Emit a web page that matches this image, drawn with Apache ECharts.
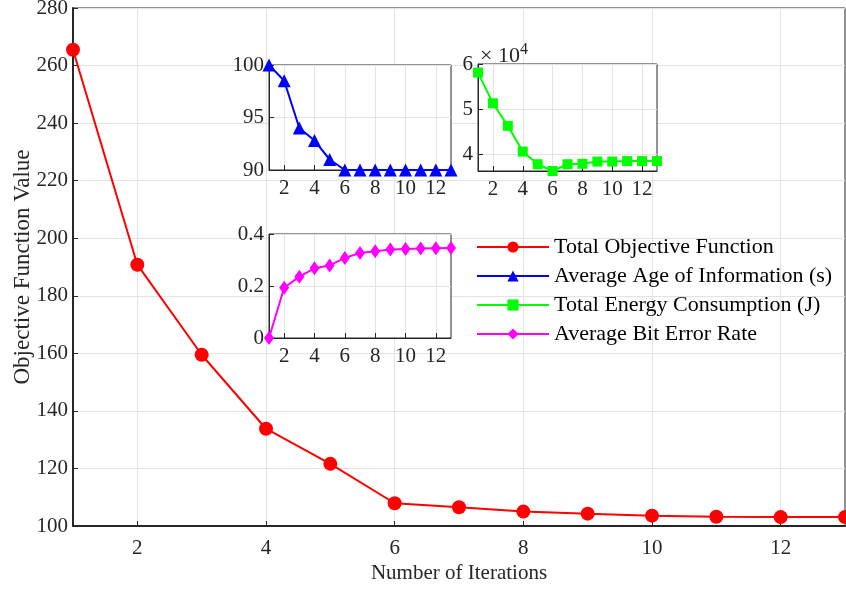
<!DOCTYPE html>
<html>
<head>
<meta charset="utf-8">
<script src="https://cdn.jsdelivr.net/npm/echarts@6/dist/echarts.min.js"></script>
<style>
html, body { margin: 0; padding: 0; background: #fff; }
#chart { width: 846px; height: 589px; }
</style>
</head>
<body>
<div id="chart"></div>
<script>
// values
const iterations = [1, 2, 3, 4, 5, 6, 7, 8, 9, 10, 11, 12, 13]
const totalObjective = [265.5, 190.8, 159.5, 133.8, 121.6, 107.9, 106.5, 105.0, 104.3, 103.6, 103.2, 103.1, 103.1]
const avgAoI = [100, 98.5, 94.0, 92.8, 91.0, 90, 90, 90, 90, 90, 90, 90, 90]
const totalEnergy = [58100, 51300, 46300, 40600, 37800, 36300, 37800, 37900, 38400, 38400, 38500, 38500, 38500]
const avgBER = [0, 0.193, 0.236, 0.268, 0.279, 0.308, 0.327, 0.334, 0.340, 0.342, 0.344, 0.345, 0.346]
const xTicks = [2, 4, 6, 8, 10, 12]
const energyTicks = [40000, 50000, 60000]

const serif = 'Liberation Serif'
const ink = '#262626'
const gridColor = '#e3e3e3'
const fs = 21

const pairs = (ys) => iterations.map((x, i) => [x, ys[i]])

function xAxisFor(gridIndex, opts = {}) {
  return {
    type: 'value',
    gridIndex,
    min: 1,
    max: 13,
    axisLine: { show: true, lineStyle: { color: ink, width: opts.lineW || 1 } },
    axisTick: { show: true, inside: true, length: 5, customValues: xTicks, lineStyle: { color: ink } },
    axisLabel: { customValues: xTicks, color: ink, fontFamily: serif, fontSize: fs, margin: opts.margin || 8 },
    splitLine: { show: true, lineStyle: { color: gridColor } },
    z: opts.z || 0,
    ...opts.extra,
  }
}

function yAxisFor(gridIndex, min, max, interval, opts = {}) {
  return {
    type: 'value',
    gridIndex,
    min,
    max,
    interval,
    axisLine: { show: true, lineStyle: { color: ink, width: opts.lineW || 1 } },
    axisTick: { show: true, inside: true, length: 5, lineStyle: { color: ink } },
    axisLabel: { color: ink, fontFamily: serif, fontSize: fs, margin: 5 },
    splitLine: { show: true, lineStyle: { color: gridColor } },
    z: opts.z || 0,
    ...opts.extra,
  }
}

const gridBase = { show: true, borderColor: ink, borderWidth: 1, containLabel: false, outerBoundsMode: 'none' }

const chart = echarts.init(document.getElementById('chart'))

chart.setOption({
  animation: false,
  backgroundColor: '#fff',
  grid: [
    { ...gridBase, left: 73, top: 8, right: 1, bottom: 63, backgroundColor: 'transparent', z: 0 },
    { ...gridBase, left: 269, top: 65, width: 182, height: 105, backgroundColor: '#fff', z: 1 },
    { ...gridBase, left: 478, top: 64, width: 179, height: 107, backgroundColor: '#fff', z: 1 },
    { ...gridBase, left: 269, top: 234, width: 182, height: 104, backgroundColor: '#fff', z: 1 },
  ],
  xAxis: [
    xAxisFor(0, {
      lineW: 2,
      margin: 12,
      extra: {
        name: 'Number of Iterations',
        nameLocation: 'middle',
        nameGap: 37,
        nameMoveOverlap: false,
        nameTextStyle: { color: ink, fontFamily: serif, fontSize: fs },
      },
    }),
    xAxisFor(1, { z: 2 }),
    xAxisFor(2, { z: 2 }),
    xAxisFor(3, { z: 2 }),
  ],
  yAxis: [
    yAxisFor(0, 100, 280, 20, {
      lineW: 2,
      extra: {
        name: 'Objective Function Value',
        nameLocation: 'middle',
        nameGap: 39,
        nameMoveOverlap: false,
        nameTextStyle: { color: ink, fontFamily: serif, fontSize: 23 },
      },
    }),
    yAxisFor(1, 90, 100, 5, { z: 2 }),
    yAxisFor(2, 36300, 60000, null, {
      z: 2,
      extra: {
        interval: undefined,
        axisTick: { show: true, inside: true, length: 5, customValues: energyTicks, lineStyle: { color: ink } },
        axisLabel: { customValues: energyTicks, color: ink, fontFamily: serif, fontSize: fs, margin: 5, formatter: (v) => String(Math.round(v / 10000)) },
        name: '× 10{s|4}',
        nameLocation: 'end',
        nameGap: -6,
        nameMoveOverlap: false,
        nameTextStyle: {
          color: ink, fontFamily: serif, fontSize: 22, align: 'left', padding: [0, 0, 0, 2],
          rich: { s: { fontFamily: serif, fontSize: 16, color: ink, verticalAlign: 'bottom', padding: [0, 0, 12, 0] } },
        },
      },
    }),
    yAxisFor(3, 0, 0.4, 0.2, { z: 2 }),
  ],
  legend: {
    orient: 'vertical',
    left: 476,
    top: 236,
    padding: 0,
    itemWidth: 72,
    itemHeight: 14,
    itemGap: 7,
    textStyle: { color: '#000', fontFamily: serif, fontSize: 22 },
    data: ['Total Objective Function', 'Average Age of Information (s)', 'Total Energy Consumption (J)', 'Average Bit Error Rate'],
  },
  series: [
    {
      name: 'Total Objective Function',
      type: 'line',
      xAxisIndex: 0,
      yAxisIndex: 0,
      data: pairs(totalObjective),
      symbol: 'circle',
      symbolSize: 14,
      lineStyle: { color: '#ff0000', width: 2 },
      itemStyle: { color: '#ff0000' },
    },
    {
      name: 'Average Age of Information (s)',
      type: 'line',
      xAxisIndex: 1,
      yAxisIndex: 1,
      data: pairs(avgAoI),
      symbol: 'triangle',
      symbolSize: 13,
      z: 3,
      lineStyle: { color: '#0000ff', width: 2 },
      itemStyle: { color: '#0000ff' },
    },
    {
      name: 'Total Energy Consumption (J)',
      type: 'line',
      xAxisIndex: 2,
      yAxisIndex: 2,
      data: pairs(totalEnergy),
      symbol: 'rect',
      symbolSize: 10,
      z: 3,
      lineStyle: { color: '#00ff00', width: 2 },
      itemStyle: { color: '#00ff00' },
    },
    {
      name: 'Average Bit Error Rate',
      type: 'line',
      xAxisIndex: 3,
      yAxisIndex: 3,
      data: pairs(avgBER),
      symbol: 'diamond',
      symbolSize: [10, 14],
      z: 3,
      lineStyle: { color: '#ff00ff', width: 2 },
      itemStyle: { color: '#ff00ff' },
    },
  ],
})
</script>
</body>
</html>
